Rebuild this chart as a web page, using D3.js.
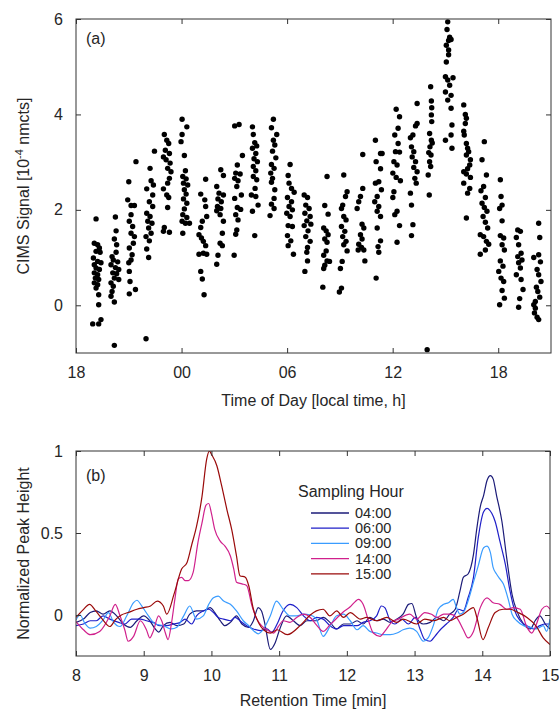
<!DOCTYPE html>
<html><head><meta charset="utf-8">
<script src="https://cdn.jsdelivr.net/npm/d3@7"></script>
<style>
body{margin:0;background:#fff;}
svg{display:block;font-family:"Liberation Sans",Arial,Helvetica,sans-serif;}
</style></head>
<body><svg id="c" width="559" height="713"></svg>
<script>
// ---------- Panel (a) data: [hour since 18:00 previous day base, CIMS signal] ----------
const ptsEvening = [
[19.14,1.81],[19.04,1.30],[19.23,1.27],[19.33,1.20],[19.14,1.13],[19.37,1.11],[18.99,0.99],[19.23,0.92],[19.42,0.89],[19.04,0.85],[19.14,0.78],[19.33,0.75],[19.04,0.68],[19.23,0.64],[19.10,0.57],[19.29,0.54],[19.04,0.47],[19.23,0.43],[19.14,0.36],[19.29,0.22],[19.29,0.01],[18.95,-0.39],[19.29,-0.39],[19.42,-0.30],
[20.24,1.85],[20.28,1.56],[20.31,1.27],[20.18,1.39],[20.28,1.11],[20.05,1.02],[20.12,0.95],[20.37,0.91],[19.99,0.85],[20.24,0.79],[20.43,0.75],[20.09,0.68],[20.31,0.66],[20.18,0.57],[20.43,0.54],[19.99,0.47],[20.12,0.40],[20.05,0.29],[19.99,0.19],[20.18,0.07],[20.18,-0.84],
[21.00,2.59],[21.41,3.01],[20.94,2.21],[21.13,2.09],[21.32,2.09],[21.13,1.90],[21.03,1.76],[21.22,1.65],[21.13,1.51],[21.32,1.44],[21.26,1.30],[21.03,1.20],[21.19,1.06],[21.13,0.95],[21.00,0.89],[21.03,0.71],[21.07,0.50],[21.38,0.33],[21.03,0.24],
[22.46,3.23],[22.21,2.87],[22.02,2.44],[22.27,2.61],[22.40,2.52],[22.36,2.31],[22.17,2.17],[22.36,2.07],[22.02,1.93],[22.21,1.86],[22.08,1.76],[22.32,1.72],[22.13,1.62],[22.27,1.51],[21.98,1.44],[22.17,1.35],[22.02,1.18],[22.13,1.00],[21.98,-0.70],
[23.02,3.58],[23.16,3.46],[23.27,3.39],[23.08,3.25],[23.31,3.18],[22.97,3.11],[23.12,3.05],[23.35,2.98],[23.21,2.87],[23.40,2.80],[23.31,2.66],[22.97,2.44],[23.21,2.56],[23.16,2.31],[23.27,2.26],[23.21,2.05],[23.02,1.63],[23.31,1.53],[22.97,1.55],
[24.03,3.90],[24.30,3.74],[24.03,3.58],[23.97,3.43],[24.16,3.14],[24.22,2.82],[24.07,2.70],[24.26,2.65],[24.11,2.56],[24.35,2.52],[24.16,2.42],[24.26,2.33],[24.11,2.23],[24.30,2.14],[24.16,2.02],[24.07,1.90],[24.30,1.84],[24.03,1.76],[24.22,1.72],[24.45,1.72],[24.07,1.51]
];
const ptsNight = [
[25.37,2.64],[25.09,2.33],[25.32,2.21],[25.37,2.07],[25.43,1.86],[25.18,1.76],[25.09,1.63],[24.99,1.48],[25.13,1.41],[25.24,1.34],[25.37,1.25],[24.99,1.07],[25.24,1.09],[25.43,1.07],[25.09,0.71],[25.18,0.55],[25.28,0.22],
[26.23,2.84],[26.38,2.72],[26.00,2.49],[26.13,2.35],[26.38,2.31],[26.07,2.23],[26.26,2.17],[26.04,2.07],[26.23,2.03],[26.00,1.98],[26.19,1.90],[26.38,1.76],[26.32,1.51],[26.19,1.30],[26.32,1.25],[26.07,1.05],[26.00,0.86],
[27.02,3.76],[27.27,3.79],[27.46,3.14],[27.17,2.94],[27.08,2.77],[27.33,2.75],[27.02,2.66],[27.21,2.61],[27.14,2.49],[27.40,2.31],[27.02,2.24],[27.17,2.05],[27.36,2.01],[27.08,1.90],[27.21,1.79],[27.14,1.58],[27.08,1.49],[26.99,1.05],
[28.03,3.74],[28.08,3.58],[28.16,3.41],[28.27,3.34],[28.03,3.29],[28.22,3.18],[28.12,3.07],[28.31,3.01],[28.08,2.91],[28.22,2.82],[28.08,2.70],[28.27,2.63],[28.18,2.45],[27.97,2.31],[28.22,2.28],[28.35,2.10],[28.03,1.97],[28.16,1.46],
[29.22,3.90],[29.11,3.72],[29.41,3.58],[29.22,3.46],[29.30,3.36],[29.17,3.23],[29.36,3.09],[29.11,2.95],[29.26,2.87],[29.07,2.77],[29.17,2.66],[29.11,2.58],[29.30,2.42],[29.26,2.24],[29.11,2.12],[29.26,2.03],[29.03,1.88],
[30.17,2.95],[30.06,2.72],[30.11,2.56],[30.25,2.45],[30.40,2.37],[30.02,2.26],[30.25,2.17],[30.11,2.07],[30.30,2.00],[29.98,1.93],[30.17,1.86],[30.06,1.67],[30.30,1.65],[30.02,1.46],[30.21,1.35],[30.06,1.25],[30.36,1.07],
[30.97,2.31],[31.16,2.26],[31.06,2.10],[31.25,2.03],[31.01,1.93],[31.31,1.86],[31.12,1.77],[31.35,1.70],[30.97,1.67],[31.19,1.56],[31.06,1.44],[31.31,1.34],[31.16,1.21],[31.12,1.11],[31.16,0.93],[31.01,0.71]
];
const ptsDay = [
[32.27,2.70],[32.14,2.09],[32.33,1.91],[32.08,1.62],[32.22,1.56],[32.33,1.48],[32.14,1.39],[32.27,1.32],[32.22,1.14],[32.08,1.05],[32.27,0.93],[32.14,0.84],[32.08,0.77],[32.41,0.92],[32.03,0.38],
[33.22,2.73],[33.41,2.38],[33.32,2.28],[33.16,2.10],[33.09,2.03],[33.22,1.86],[33.35,1.79],[33.09,1.65],[33.28,1.55],[33.16,1.44],[33.35,1.34],[33.22,1.27],[33.41,1.14],[33.13,0.92],[33.03,0.77],[33.09,0.36],[32.97,0.28],
[34.30,3.16],[34.30,2.45],[34.17,2.28],[34.07,2.17],[33.98,2.03],[34.26,1.70],[34.36,1.62],[34.17,1.48],[34.26,1.39],[34.07,1.28],[34.36,1.16],[34.42,0.93],[34.23,1.21],[34.04,1.16],
[35.02,3.46],[35.31,3.18],[35.06,3.01],[35.40,3.18],[35.31,2.86],[35.21,2.59],[35.02,2.56],[35.36,2.42],[35.12,2.28],[34.98,2.17],[35.21,2.07],[35.12,1.97],[35.31,1.86],[35.12,1.62],[35.31,1.35],[35.17,1.23],[35.21,1.11],[35.06,0.57],
[36.20,4.11],[36.39,3.95],[36.31,3.71],[36.12,3.57],[36.31,3.39],[36.16,3.22],[36.39,3.21],[36.07,3.01],[36.25,2.94],[36.01,2.77],[36.20,2.68],[36.44,2.61],[36.07,2.38],[36.01,2.26],[36.25,1.97],[36.12,1.90],[36.39,1.67],[36.25,1.32],
[37.39,4.23],[37.39,3.81],[37.30,3.76],[37.01,3.51],[37.15,3.57],[37.07,3.32],[37.20,3.22],[37.11,3.11],[37.30,3.01],[37.20,2.89],[37.39,2.80],[37.26,2.66],[37.34,2.56],[37.01,2.35],[37.07,2.10],[37.15,1.69],[37.07,1.46],
[38.16,4.58],[38.20,4.28],[38.22,4.14],[38.20,3.99],[38.22,3.85],[38.10,3.60],[38.20,3.46],[38.12,3.32],[38.18,3.15],[38.10,3.01],[38.16,2.91],[38.02,2.73],[38.08,2.31],[38.25,3.40],[38.05,3.20],[37.96,-0.93]
];
const ptsLate = [
[39.13,5.94],[39.09,5.78],[39.24,5.62],[39.18,5.55],[39.32,5.57],[39.05,5.45],[39.18,5.35],[39.18,5.25],[39.05,5.10],[39.00,4.79],[39.13,4.72],[39.43,4.77],[39.24,4.61],[39.00,4.47],[39.32,4.40],[39.13,4.30],[39.32,4.13],[39.37,3.78],[39.00,3.46],[39.32,3.57],[39.37,3.29],
[40.04,4.20],[40.13,4.00],[40.19,3.92],[40.13,3.81],[40.04,3.65],[40.07,3.57],[40.19,3.39],[40.26,3.29],[40.32,3.22],[40.19,3.15],[40.42,3.05],[40.38,2.94],[40.26,2.86],[40.04,2.80],[40.19,2.75],[40.42,2.68],[40.04,2.56],[40.38,2.45],[40.26,2.35],[40.19,1.83],
[41.21,3.43],[41.08,3.05],[41.33,2.73],[41.17,2.49],[41.02,2.40],[41.27,2.26],[41.08,2.14],[41.21,2.05],[41.36,1.97],[41.14,1.86],[41.27,1.74],[41.40,1.62],[40.98,1.48],[41.17,1.44],[41.33,1.34],[41.46,1.28],[41.27,1.16],[40.98,1.07],
[42.12,2.63],[42.16,2.28],[42.22,2.10],[42.08,2.03],[42.22,1.77],[42.12,1.46],[42.31,1.41],[42.22,1.27],[42.35,1.16],[42.12,0.93],[42.27,0.82],[42.03,0.71],[42.16,0.57],[42.31,0.50],[42.22,0.31],[42.35,0.15],[42.08,0.01],
[43.11,1.58],[43.26,1.55],[43.03,1.42],[43.16,1.27],[43.30,1.09],[43.11,1.02],[43.35,0.95],[43.16,0.89],[43.26,0.78],[43.03,0.64],[43.30,0.54],[43.41,0.33],[43.22,0.14],[43.16,-0.04],
[44.30,1.72],[44.36,1.42],[44.02,1.00],[44.30,1.06],[44.40,0.91],[44.21,0.75],[44.30,0.64],[44.43,0.50],[44.17,0.38],[44.25,0.29],[44.36,0.17],[44.11,0.08],[44.02,0.01],[44.06,-0.16],[44.21,-0.25],[44.30,-0.30],[44.11,-0.06]
];
const timeTicks = [18, 24, 30, 36, 42];
const timeTickLabels = ["18", "00", "06", "12", "18"];
const signalTicks = [0, 2, 4, 6];

// ---------- Panel (b) data: [retention time min, normalized peak height] ----------
const trace0400 = [[8.0,-0.045],[8.11,-0.025],[8.21,0.015],[8.3,0.025],[8.4,0.005],[8.5,0.025],[8.6,-0.005],[8.7,-0.055],[8.8,-0.075],[8.9,-0.035],[9.0,-0.005],[9.09,-0.035],[9.17,-0.085],[9.22,-0.105],[9.29,-0.065],[9.39,-0.045],[9.49,-0.065],[9.59,-0.055],[9.68,0.005],[9.78,0.025],[9.88,0.025],[9.98,0.045],[10.05,0.015],[10.13,-0.035],[10.2,-0.065],[10.28,-0.045],[10.37,-0.005],[10.45,-0.055],[10.55,-0.075],[10.62,-0.035],[10.69,0.045],[10.74,0.025],[10.79,-0.055],[10.87,-0.21],[10.94,-0.17],[11.01,-0.085],[11.11,-0.005],[11.21,-0.035],[11.31,-0.065],[11.41,-0.035],[11.55,-0.035],[11.65,-0.015],[11.75,-0.045],[11.85,-0.085],[11.95,-0.055],[12.05,-0.055],[12.15,-0.035],[12.24,-0.055],[12.34,-0.015],[12.44,-0.035],[12.54,-0.025],[12.64,-0.045],[12.74,-0.025],[12.83,0.005],[12.91,0.065],[12.96,0.07],[13.03,-0.015],[13.13,-0.055],[13.23,-0.045],[13.33,-0.015],[13.43,-0.035],[13.52,0.005],[13.6,0.035],[13.67,0.145],[13.72,0.23],[13.79,0.25],[13.87,0.37],[13.92,0.53],[13.97,0.66],[14.02,0.73],[14.07,0.82],[14.12,0.85],[14.16,0.83],[14.21,0.73],[14.29,0.57],[14.36,0.35],[14.44,0.125],[14.51,0.025],[14.61,-0.055],[14.71,-0.085],[14.78,-0.035],[14.85,-0.005],[14.93,-0.055],[15.0,-0.085]];
const trace0600 = [[8.0,-0.065],[8.11,-0.055],[8.21,-0.035],[8.3,-0.035],[8.4,-0.005],[8.5,-0.025],[8.63,-0.045],[8.72,-0.055],[8.82,-0.025],[8.95,-0.025],[9.04,-0.035],[9.14,-0.045],[9.24,-0.065],[9.34,-0.065],[9.44,-0.055],[9.54,-0.045],[9.61,-0.025],[9.71,-0.055],[9.78,-0.005],[9.88,0.025],[9.96,0.035],[10.03,0.015],[10.1,-0.015],[10.18,-0.025],[10.28,-0.035],[10.35,-0.015],[10.42,-0.035],[10.52,-0.065],[10.62,-0.085],[10.72,-0.095],[10.82,-0.085],[10.89,-0.105],[10.97,-0.055],[11.05,0.02],[11.16,0.065],[11.26,0.045],[11.36,-0.005],[11.46,-0.035],[11.55,-0.015],[11.65,-0.025],[11.75,-0.065],[11.85,-0.085],[11.95,-0.065],[12.05,-0.065],[12.15,-0.065],[12.24,-0.045],[12.34,-0.035],[12.44,-0.005],[12.51,0.055],[12.56,0.045],[12.64,-0.035],[12.71,-0.055],[12.81,-0.025],[12.91,-0.055],[13.01,-0.015],[13.08,-0.085],[13.15,-0.15],[13.23,-0.16],[13.3,-0.13],[13.38,-0.09],[13.47,-0.055],[13.57,-0.015],[13.65,0.035],[13.72,0.025],[13.79,0.105],[13.87,0.23],[13.94,0.47],[14.02,0.63],[14.07,0.65],[14.14,0.62],[14.19,0.57],[14.26,0.45],[14.34,0.31],[14.41,0.145],[14.48,0.025],[14.56,-0.035],[14.66,-0.065],[14.76,-0.085],[14.85,-0.065],[14.93,-0.055],[15.0,-0.055]];
const trace0900 = [[8.0,-0.03],[8.06,0.0],[8.13,-0.05],[8.21,-0.08],[8.3,-0.07],[8.4,-0.03],[8.48,0.015],[8.55,-0.04],[8.65,-0.07],[8.75,-0.005],[8.85,0.075],[8.9,0.09],[8.97,0.055],[9.07,-0.005],[9.17,-0.055],[9.29,-0.065],[9.41,-0.085],[9.49,-0.075],[9.59,-0.005],[9.68,0.055],[9.78,-0.025],[9.88,-0.005],[9.96,0.065],[10.03,0.105],[10.1,0.115],[10.18,0.085],[10.28,0.065],[10.37,0.025],[10.47,-0.035],[10.55,-0.065],[10.62,-0.095],[10.69,-0.115],[10.77,-0.085],[10.87,-0.005],[10.96,0.085],[11.06,0.035],[11.16,-0.005],[11.26,-0.005],[11.36,0.005],[11.46,0.0],[11.55,-0.025],[11.65,-0.13],[11.75,-0.07],[11.85,-0.005],[11.95,0.005],[12.05,-0.035],[12.15,-0.09],[12.24,-0.065],[12.34,-0.1],[12.44,-0.11],[12.54,-0.12],[12.64,-0.12],[12.74,-0.11],[12.83,-0.09],[12.93,-0.08],[13.03,-0.1],[13.13,-0.16],[13.2,-0.14],[13.28,-0.06],[13.35,0.035],[13.43,0.065],[13.5,0.075],[13.57,0.095],[13.62,0.045],[13.67,0.005],[13.72,0.015],[13.79,0.085],[13.87,0.2],[13.94,0.3],[14.02,0.41],[14.07,0.42],[14.12,0.38],[14.16,0.29],[14.21,0.25],[14.26,0.22],[14.31,0.19],[14.39,0.085],[14.44,0.005],[14.51,-0.035],[14.61,-0.065],[14.71,-0.075],[14.8,-0.085],[14.9,-0.065],[14.95,-0.1],[15.0,-0.025]];
const trace1400 = [[8.0,-0.04],[8.11,-0.09],[8.21,-0.12],[8.35,-0.1],[8.5,-0.005],[8.58,0.065],[8.65,-0.005],[8.72,-0.09],[8.77,-0.16],[8.85,-0.13],[8.95,-0.035],[9.04,-0.09],[9.09,-0.14],[9.14,-0.1],[9.22,-0.005],[9.27,-0.04],[9.32,-0.11],[9.36,-0.15],[9.41,-0.05],[9.46,0.095],[9.51,0.22],[9.56,0.23],[9.61,0.21],[9.66,0.21],[9.73,0.26],[9.8,0.44],[9.86,0.56],[9.92,0.67],[9.96,0.68],[10.0,0.62],[10.05,0.52],[10.13,0.45],[10.2,0.42],[10.28,0.36],[10.33,0.28],[10.37,0.2],[10.45,0.19],[10.52,0.18],[10.6,0.055],[10.67,-0.025],[10.74,-0.065],[10.82,-0.09],[10.92,-0.11],[10.99,-0.07],[11.06,-0.035],[11.16,-0.045],[11.26,-0.015],[11.36,0.005],[11.46,-0.015],[11.55,-0.06],[11.65,-0.1],[11.75,-0.06],[11.85,-0.02],[11.95,0.02],[12.05,0.05],[12.12,0.08],[12.17,0.095],[12.24,0.065],[12.32,-0.035],[12.39,-0.11],[12.49,-0.13],[12.56,-0.1],[12.66,-0.045],[12.76,-0.025],[12.93,0.005],[13.03,-0.025],[13.15,0.015],[13.25,0.005],[13.33,-0.015],[13.43,0.005],[13.52,0.005],[13.62,-0.015],[13.72,-0.09],[13.79,-0.14],[13.87,-0.1],[13.97,0.045],[14.07,0.105],[14.16,0.075],[14.26,0.065],[14.36,0.035],[14.46,0.045],[14.56,0.035],[14.66,-0.075],[14.73,-0.11],[14.8,-0.055],[14.88,0.035],[14.95,0.055],[15.0,0.035]];
const trace1500 = [[8.0,-0.015],[8.1,0.03],[8.2,0.065],[8.3,0.02],[8.38,-0.02],[8.5,-0.07],[8.58,-0.03],[8.67,0.0],[8.77,0.015],[8.9,0.035],[9.0,0.045],[9.1,0.055],[9.2,0.085],[9.29,0.055],[9.34,0.005],[9.45,0.13],[9.56,0.28],[9.64,0.32],[9.71,0.43],[9.78,0.54],[9.86,0.72],[9.93,0.95],[9.97,1.0],[10.0,0.98],[10.08,0.91],[10.15,0.79],[10.23,0.64],[10.3,0.52],[10.37,0.36],[10.42,0.24],[10.5,0.23],[10.55,0.18],[10.62,0.035],[10.7,-0.05],[10.77,-0.09],[10.87,-0.11],[10.97,-0.09],[11.12,-0.12],[11.32,-0.06],[11.46,0.0],[11.55,0.025],[11.65,0.035],[11.75,-0.005],[11.85,0.025],[11.95,-0.015],[12.05,0.015],[12.2,-0.025],[12.29,-0.015],[12.44,-0.035],[12.59,-0.015],[12.74,-0.045],[12.83,-0.025],[13.03,-0.055],[13.15,-0.025],[13.28,-0.035],[13.43,-0.015],[13.52,-0.035],[13.62,-0.015],[13.72,0.005],[13.87,0.045],[13.92,-0.015],[14.01,-0.15],[14.09,-0.075],[14.19,0.015],[14.31,0.035],[14.41,0.035],[14.53,0.015],[14.66,-0.015],[14.8,-0.07],[14.9,-0.14],[15.0,-0.18]];
const seriesNames = ["04:00", "06:00", "09:00", "14:00", "15:00"];
const seriesColors = ["#1b1b78", "#1f1fc8", "#3a9cff", "#d0208c", "#9a0a0a"];
const retentionTicks = [8, 9, 10, 11, 12, 13, 14, 15];
const heightTicks = [0, 0.5, 1];

// ---------- drawing ----------
const svg = d3.select("#c");
const TXT = "#262626", AX = "#333";
const tickLen = 5;

function boxAxes(g, x, y, xt, xfmt, yt, yfmt) {
  const [x0, x1] = x.range(), [y0, y1] = y.range();
  g.append("rect").attr("x", x0).attr("y", y1).attr("width", x1 - x0).attr("height", y0 - y1)
    .attr("fill", "none").attr("stroke", AX).attr("stroke-width", 1);
  const gb = g.append("g").attr("transform", `translate(0,${y0})`)
    .call(d3.axisBottom(x).tickValues(xt).tickFormat(xfmt).tickSizeInner(-tickLen).tickSizeOuter(0).tickPadding(14));
  const gt = g.append("g").attr("transform", `translate(0,${y1})`)
    .call(d3.axisTop(x).tickValues(xt).tickFormat("").tickSizeInner(-tickLen).tickSizeOuter(0));
  const gl = g.append("g").attr("transform", `translate(${x0},0)`)
    .call(d3.axisLeft(y).tickValues(yt).tickFormat(yfmt).tickSizeInner(-tickLen).tickSizeOuter(0).tickPadding(13));
  const gr = g.append("g").attr("transform", `translate(${x1},0)`)
    .call(d3.axisRight(y).tickValues(yt).tickFormat("").tickSizeInner(-tickLen).tickSizeOuter(0));
  [gb, gt, gl, gr].forEach(a => {
    a.select(".domain").remove();
    a.selectAll(".tick line").attr("stroke", AX);
    a.selectAll(".tick text").attr("fill", TXT).style("font-size", "16px")
      .style("font-family", '"Liberation Sans",Arial,sans-serif');
  });
}

// Panel (a)
const xA = d3.scaleLinear().domain([18, 45]).range([76, 551]);
const yA = d3.scaleLinear().domain([-1, 6]).range([353, 19]);
const gA = svg.append("g");
const allPts = ptsEvening.concat(ptsNight, ptsDay, ptsLate);
gA.append("g").selectAll("circle").data(allPts).join("circle")
  .attr("cx", d => xA(d[0])).attr("cy", d => yA(d[1])).attr("r", 2.7).attr("fill", "#000");
boxAxes(gA, xA, yA, timeTicks, (d, i) => timeTickLabels[i], signalTicks, d3.format("d"));
gA.append("text").attr("x", 86).attr("y", 44).attr("fill", TXT).style("font-size", "16px").text("(a)");
gA.append("text").attr("x", (76 + 551) / 2).attr("y", 406).attr("text-anchor", "middle")
  .attr("fill", TXT).style("font-size", "16px").text("Time of Day [local time, h]");
const yl = gA.append("text").attr("transform", `translate(29,${(19 + 353) / 2}) rotate(-90)`)
  .attr("text-anchor", "middle").attr("fill", TXT).style("font-size", "16px");
yl.append("tspan").text("CIMS Signal [10");
yl.append("tspan").attr("dy", -6).style("font-size", "11px").text("-4");
yl.append("tspan").attr("dy", 6).text(" nmcts]");

// Panel (b)
const xB = d3.scaleLinear().domain([8, 15]).range([76, 550]);
const yB = d3.scaleLinear().domain([-0.25, 1]).range([656, 451]);
const gB = svg.append("g");
const traces = [trace0400, trace0600, trace0900, trace1400, trace1500];
const line = d3.line().x(d => xB(d[0])).y(d => yB(d[1])).curve(d3.curveMonotoneX);
gB.append("defs").append("clipPath").attr("id", "clipB").append("rect")
  .attr("x", 76).attr("y", 451).attr("width", 474).attr("height", 205);
gB.append("g").attr("clip-path", "url(#clipB)").selectAll("path").data(traces).join("path")
  .attr("d", line).attr("fill", "none").attr("stroke", (d, i) => seriesColors[i]).attr("stroke-width", 1.2);
boxAxes(gB, xB, yB, retentionTicks, d3.format("d"), heightTicks, d => d === 0.5 ? "0.5" : d3.format("d")(d));
gB.append("text").attr("x", 86).attr("y", 481).attr("fill", TXT).style("font-size", "16px").text("(b)");
gB.append("text").attr("x", (76 + 550) / 2).attr("y", 706).attr("text-anchor", "middle")
  .attr("fill", TXT).style("font-size", "16px").text("Retention Time [min]");
gB.append("text").attr("transform", `translate(29,${(451 + 656) / 2}) rotate(-90)`)
  .attr("text-anchor", "middle").attr("fill", TXT).style("font-size", "16px").text("Normalized Peak Height");

// legend
const lg = gB.append("g");
lg.append("text").attr("x", 298).attr("y", 497).attr("fill", TXT).style("font-size", "16px").text("Sampling Hour");
const rows = lg.selectAll("g.row").data(seriesNames).join("g").attr("class", "row")
  .attr("transform", (d, i) => `translate(0,${513 + i * 15.2})`);
rows.append("line").attr("x1", 311).attr("x2", 349).attr("y1", 0).attr("y2", 0)
  .attr("stroke", (d, i) => seriesColors[i]).attr("stroke-width", 1.3);
rows.append("text").attr("x", 355).attr("y", 5).attr("fill", TXT).style("font-size", "14.5px").text(d => d);
</script></body></html>
